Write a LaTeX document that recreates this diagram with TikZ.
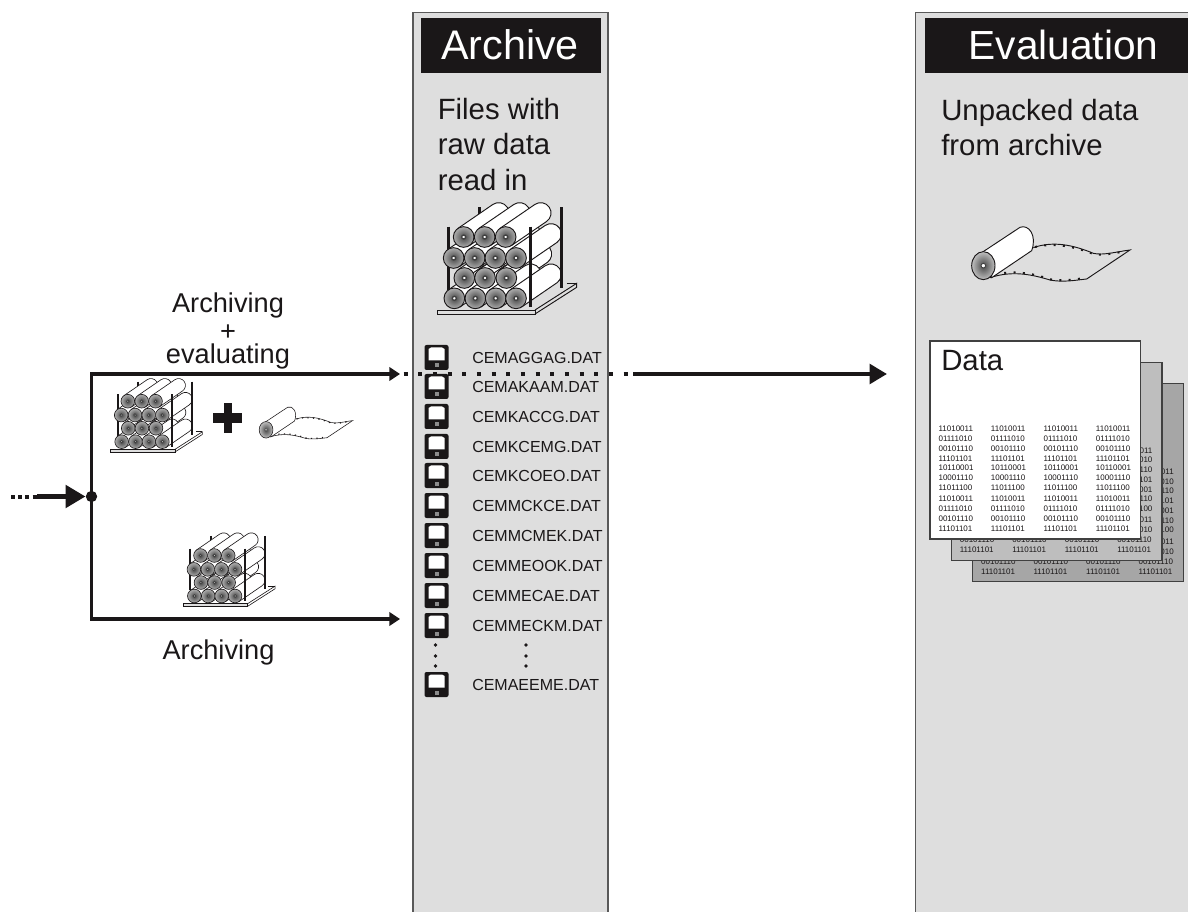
\documentclass[tikz,border=0pt]{standalone}
\usepackage{fontspec}
\setmainfont{Liberation Sans}
\usetikzlibrary{arrows.meta}
\definecolor{panelgray}{HTML}{DEDEDE}
\definecolor{inkblack}{HTML}{1A1718}
\definecolor{pagemid}{HTML}{BEBEBE}
\definecolor{pagedark}{HTML}{A6A6A6}
\tikzset{
  panel/.style={fill=panelgray,draw=black!65,line width=0.9pt},
  header/.style={text=white,inner sep=0pt,anchor=base,font=\fontsize{31}{31}\selectfont},
  body/.style={anchor=base west,inner sep=0pt,font=\fontsize{22}{22}\selectfont,text=inkblack},
  lab/.style={inner sep=0pt,anchor=base,font=\fontsize{20.4}{20.4}\selectfont,text=inkblack},
  fname/.style={anchor=west,inner sep=0pt,font=\fontsize{12}{12}\selectfont,text=inkblack},
  bits/.style={anchor=west,inner sep=0pt,font=\fontsize{6}{6}\selectfont,text=inkblack},
  bitsend/.style={anchor=east,inner sep=0pt,font=\fontsize{6}{6}\selectfont,text=inkblack},
  wire/.style={draw=inkblack,line width=2.7pt},
  tipped/.style={wire,-{Triangle[length=8pt,width=10pt]}},
}
% rack: x, y, scale
\newcommand{\rackdraw}[3]{%
\begin{scope}[shift={(#1,#2)},x=#3*0.25pt,y=-#3*0.25pt]
  \pgfmathsetmacro{\lw}{#3*0.7}
  \pgfmathsetmacro{\pw}{#3*2.3}
  \pgfmathsetmacro{\hw}{#3*1.0}
  % platform
  \draw[fill=panelgray,draw=inkblack,line width=\lw pt] (52,360) rectangle (345,372);
  \draw[draw=inkblack,line width=\lw pt] (345,360)--(470,280)--(470,292)--(345,372);
  \draw[draw=inkblack,line width=\lw pt] (440,280)--(470,280);
  \draw[draw=inkblack,line width=\pw pt] (85,110)--(85,300);
  \draw[draw=inkblack,line width=\pw pt] (178,52)--(178,110);
  % rolls back to front
  \foreach \cx/\cy in {101/204,131/141,133/264,103/325,164/204,194/141,195/264,166/325,226/204,257/141,259/264,227/325,288/204,288/325}{
    \draw[fill=white,draw=inkblack,line width=\lw pt]
      (\cx-17.5,\cy-25.6)--(\cx+87.5,\cy-97.6) arc[start angle=235.5,end angle=415.5,radius=31]
      --(\cx+17.5,\cy+25.6)--cycle;
  }
  % front circles
  \foreach \cx/\cy in {131/141,194/141,257/141,101/204,164/204,226/204,288/204,133/264,195/264,259/264,103/325,166/325,227/325,288/325}{
    \shade[inner color=black!72,outer color=black!32] (\cx,\cy) circle[radius=31];
    \draw[draw=inkblack,line width=\lw pt] (\cx,\cy) circle[radius=31];
    \draw[fill=white,draw=black!75,line width=\hw pt] (\cx,\cy) circle[radius=6];
  }
  \draw[draw=inkblack,line width=\pw pt] (331,110)--(331,350);
  \draw[draw=inkblack,line width=\pw pt] (424,52)--(424,293);
\end{scope}}
% paper roll: x, y, scale, paper colour
\newcommand{\rolldraw}[4]{%
\begin{scope}[shift={(#1,#2)},x=#3*0.25pt,y=-#3*0.25pt]
  \pgfmathsetmacro{\lw}{#3*0.7}
  \pgfmathsetmacro{\dw}{#3*1.5}
  \pgfmathsetmacro{\dg}{#3*5.5}
  \draw[draw=inkblack,line width=\lw pt,fill=#4]
    (120,203) .. controls (190,180) and (250,195) .. (300,210)
    .. controls (340,218) and (380,210) .. (410,207) -- (540,120)
    .. controls (500,125) and (460,137) .. (430,130)
    .. controls (370,105) and (310,92) .. (250,113);
  \draw[draw=inkblack,line width=\dw pt,dash pattern=on \dw pt off \dg pt]
    (135,194) .. controls (190,180) and (250,190) .. (300,208)
    .. controls (340,214) and (375,208) .. (405,204);
  \draw[draw=inkblack,line width=\dw pt,dash pattern=on \dw pt off \dg pt]
    (255,111) .. controls (310,98) and (370,108) .. (430,132)
    .. controls (460,138) and (500,128) .. (530,123);
  \draw[fill=white,draw=inkblack,line width=\lw pt]
    (95,128)--(210,52) .. controls (235,42) and (262,75) .. (245,122) -- (125,203) -- cycle;
  \shade[inner color=black!72,outer color=black!25] (100,167) ellipse[x radius=35,y radius=42];
  \draw[draw=inkblack,line width=\lw pt] (100,167) ellipse[x radius=35,y radius=42];
  \draw[fill=white,draw=black!75,line width=\lw pt] (100,167) circle[radius=7];
\end{scope}}
% disk icon centred at x,y
\newcommand{\diskicon}[2]{%
\begin{scope}[shift={(#1,#2)}]
  \fill[inkblack,rounded corners=1.5pt] (-12,-12.5) rectangle (12,12.5);
  \fill[white] (-8,-8.5)--(-5.5,-10)--(5.5,-10)--(8,-8.5)--(8,3)--(-8,3)--cycle;
  \fill[black!45] (-1.5,6) rectangle (2.5,10);
\end{scope}}
% rear sheet: offset, fill, name prefix
\newcommand{\rearpage}[3]{%
\begin{scope}[shift={(#1,#1)}]
  \draw[fill=#2,draw=black!75,line width=0.8pt] (930,341) rectangle (1140.7,539);
  \foreach \cx in {938.3,990.7,1043.3,1095.7}{
    \node[bits] (#3cut\cx) at (\cx,518.7) {00101110};
    \node[bits] (#3last\cx) at (\cx,528.7) {11101101};
  }
  \foreach \ry/\bt in {429/011,438.7/010,448.3/110,458.3/101,468/001,477.7/110,487.3/100,498.7/011,508.7/010}{
    \node[bitsend] (#3edge\ry) at (1131.4,\ry) {\bt};
  }
\end{scope}}
\begin{document}
\begin{tikzpicture}[x=0.75pt,y=-0.75pt]
\useasboundingbox (0,0) rectangle (1188,912);
\fill[white] (0,0) rectangle (1188,912);
% panels
\draw[panel] (413,940)--(413,12.5)--(608,12.5)--(608,940);
\draw[panel] (915.5,940)--(915.5,12.5)--(1195,12.5)--(1195,940);
\fill[white] (0,912) rectangle (1200,950);
% headers
\path[fill=inkblack] (420.7,18) rectangle (600.7,73);
\node[header] (archivehead) at (510,59.5) {Archive};
\path[fill=inkblack] (925,18) rectangle (1190,73);
\node[header,font=\fontsize{30.5}{30.5}\selectfont] (evalhead) at (1063.5,59.5) {Evaluation};
% texts in panels
\node[body] (f1) at (437.5,119.3) {Files with};
\node[body] (f2) at (437.5,155) {raw data};
\node[body] (f3) at (437.5,190.5) {read in};
\node[body] (u1) at (941,120.5) {Unpacked data};
\node[body] (u2) at (941,155.5) {from archive};
% icons
\rackdraw{420}{190}{1}
\rackdraw{99}{370.2}{0.66}
\rackdraw{171.7}{524.5}{0.66}
\rolldraw{950}{210}{1}{panelgray}
\rolldraw{246.4}{397}{0.59}{white}
% plus
\fill[inkblack] (213.3,413.5) rectangle (241.7,423);
\fill[inkblack] (224,403.3) rectangle (231.7,432.7);
% pages
\rearpage{42.6}{pagedark}{pc}
\rearpage{21.3}{pagemid}{pb}
\draw[fill=white,draw=black!75,line width=0.8pt] (930,341) rectangle (1140.7,539);
\foreach \cx in {938.3,990.7,1043.3,1095.7}{
  \foreach \ry/\bt in {429/11010011,438.7/01111010,448.3/00101110,458.3/11101101,468/10110001,477.7/10001110,487.3/11011100,498.7/11010011,508.7/01111010,518.7/00101110,528.7/11101101}{
    \node[bits] (pa\cx-\ry) at (\cx,\ry) {\bt};
  }
}
\node[body] (datalabel) at (941,371) {Data};
% file list
\foreach \ic/\fy/\fn in {a/358/CEMAGGAG.DAT,b/387/CEMAKAAM.DAT,c/417/CEMKACCG.DAT,d/447/CEMKCEMG.DAT,e/476/CEMKCOEO.DAT,f/506/CEMMCKCE.DAT,g/536/CEMMCMEK.DAT,h/566/CEMMEOOK.DAT,i/596/CEMMECAE.DAT,j/626/CEMMECKM.DAT,k/685/CEMAEEME.DAT}{
  \diskicon{436.5}{\fy-0.5}
  \node[fname] (file\ic) at (472,\fy) {\fn};
}
\foreach \dx in {435.5,526}{
  \foreach \dy in {645,656,666}{
    \fill[inkblack] (\dx,\dy) circle[radius=1.8];
  }
}
% connectors
\node[circle,fill=inkblack,inner sep=0pt,minimum size=8.5pt] (junction) at (91.5,496.5) {};
\coordinate (incoming) at (11,496.5);
\coordinate (inputsolid) at (37,496.5);
\coordinate (cornertop) at (91.5,374);
\coordinate (cornerbot) at (91.5,619);
\coordinate (toptip) at (400,374);
\coordinate (bottip) at (400,619);
\coordinate (dotstart) at (403.5,374);
\coordinate (dotend) at (628,374);
\coordinate (solidstart) at (633,374);
\coordinate (righttip) at (887,374);
\draw[wire,dash pattern=on 3pt off 2.4pt,line width=3pt] (incoming)--(inputsolid);
\draw[wire,line width=3.8pt,-{Triangle[length=15pt,width=16.5pt]}] (inputsolid)--(junction);
\draw[wire,line width=2pt] (cornertop)--(cornerbot);
\draw[tipped] ([xshift=-1pt]cornertop)--(toptip);
\draw[tipped] ([xshift=-1pt]cornerbot)--(bottip);
\draw[wire,line width=3pt,dash pattern=on 3pt off 8pt] (dotstart)--(dotend);
\draw[wire,line width=3.2pt,-{Triangle[length=13pt,width=14.5pt]}] (solidstart)--(righttip);
% labels
\node[lab] (la1) at (228,312.5) {Archiving};
\node[lab] (la2) at (228,341) {+};
\node[lab] (la3) at (228,363.3) {evaluating};
\node[lab] (la4) at (218.5,659) {Archiving};
\end{tikzpicture}
\end{document}
